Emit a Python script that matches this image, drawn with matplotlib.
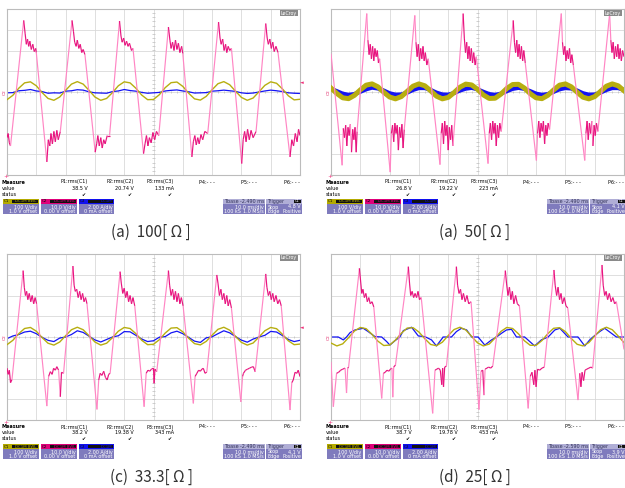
import numpy as np
import matplotlib
matplotlib.use('Agg')
import matplotlib.pyplot as plt
from matplotlib.collections import LineCollection
from matplotlib.patches import Rectangle

# ---------------- data (screen divisions: x 0..10, y -4..4) ----------------
wave_x = np.linspace(0, 10, 51)

yellow_a = [-0.37, -0.16, 0.18, 0.44, 0.49, 0.30, -0.03, -0.31, -0.40, -0.24,
            0.08, 0.38, 0.50, 0.38, 0.08, -0.24, -0.40, -0.31, -0.03, 0.30,
            0.49, 0.44, 0.18, -0.15, -0.37, -0.36, -0.13, 0.21, 0.45, 0.48,
            0.27, -0.06, -0.33, -0.39, -0.21, 0.11, 0.40, 0.50, 0.35, 0.04,
            -0.26, -0.40, -0.29, 0.01, 0.32, 0.49, 0.42, 0.15, -0.18, -0.38, -0.35]
blue_a = [-0.04, -0.03, 0.06, 0.08, 0.12, 0.05, 0.02, -0.06, -0.04, -0.05,
          0.04, 0.06, 0.11, 0.09, 0.01, -0.04, -0.05, -0.06, 0.02, 0.05,
          0.12, 0.07, 0.04, -0.02, -0.06, -0.04, -0.02, 0.05, 0.08, 0.10,
          0.05, 0.01, -0.05, -0.04, -0.03, 0.04, 0.06, 0.09, 0.06, 0.03,
          -0.04, -0.07, -0.05, 0.00, 0.05, 0.09, 0.06, 0.02, -0.04, -0.06, -0.07]
pink_a = [(0.00, -2.20), (0.04, -2.00), (0.08, -2.45), (0.12, -2.60),
          (0.57, 3.45), (0.62, 2.80), (0.66, 2.30), (0.70, 2.55), (0.74, 2.20), (0.78, 2.45),
          (0.83, 2.05), (0.88, 2.30), (0.93, 1.95), (0.98, 2.10), (1.00, 1.90),
          (1.36, -3.37), (1.41, -2.30), (1.46, -2.60), (1.50, -2.00), (1.55, -2.50), (1.60, -1.90),
          (1.65, -2.40), (1.70, -1.85), (1.75, -2.30), (1.82, -1.90),
          (2.22, 3.45), (2.27, 2.90), (2.31, 2.40), (2.36, 2.20), (2.40, 2.50), (2.45, 2.10),
          (2.50, 2.30), (2.55, 1.90), (2.60, 2.05), (2.66, 1.80),
          (3.01, -2.90), (3.06, -2.50), (3.10, -2.10), (3.15, -2.60), (3.20, -2.20), (3.25, -2.70),
          (3.30, -2.30), (3.35, -2.50), (3.42, -2.10), (3.50, -2.10),
          (3.84, 3.42), (3.89, 2.70), (3.93, 2.40), (3.98, 2.60), (4.03, 2.25), (4.08, 2.45),
          (4.13, 2.20), (4.18, 2.35), (4.25, 2.00), (4.30, 2.10),
          (4.66, -2.97), (4.71, -2.50), (4.76, -2.10), (4.81, -2.60), (4.86, -2.20), (4.92, -2.45),
          (4.98, -1.95), (5.04, -2.30), (5.10, -1.90), (5.18, -2.10),
          (5.51, 3.13), (5.56, 2.50), (5.60, 2.10), (5.65, 2.40), (5.70, 2.00), (5.75, 2.50),
          (5.80, 2.05), (5.85, 2.35), (5.90, 1.90), (5.96, 2.20), (6.00, 1.85),
          (6.31, -3.13), (6.36, -2.40), (6.41, -2.10), (6.46, -2.55), (6.51, -2.20), (6.56, -2.50),
          (6.62, -2.05), (6.68, -2.30), (6.75, -1.90), (6.85, -2.00),
          (7.22, 3.37), (7.27, 2.60), (7.31, 2.30), (7.36, 2.55), (7.41, 2.00), (7.46, 2.30),
          (7.50, 1.90), (7.55, 2.20), (7.60, 2.00), (7.66, 2.10),
          (8.01, -3.45), (8.06, -2.30), (8.11, -1.90), (8.16, -2.40), (8.21, -1.80), (8.27, -2.30),
          (8.33, -1.85), (8.40, -2.20), (8.50, -1.90),
          (8.83, 3.30), (8.88, 2.60), (8.92, 2.30), (8.97, 2.55), (9.02, 2.10), (9.07, 2.40),
          (9.12, 1.95), (9.18, 2.20), (9.25, 1.90),
          (9.66, -3.13), (9.72, -2.30), (9.78, -2.60), (9.84, -2.00), (9.90, -2.40), (9.95, -1.80),
          (10.00, -2.10)]

yellow_b = [0.19, -0.07, -0.28, -0.32, -0.16, 0.10, 0.33, 0.39, 0.25, -0.01,
            -0.24, -0.33, -0.22, 0.03, 0.28, 0.39, 0.30, 0.06, -0.20, -0.33,
            -0.26, -0.03, 0.23, 0.38, 0.34, 0.13, -0.14, -0.31, -0.30, -0.10,
            0.17, 0.36, 0.37, 0.19, -0.08, -0.28, -0.32, -0.16, 0.10, 0.33,
            0.39, 0.25, -0.01, -0.25, -0.33, -0.22, 0.03, 0.28, 0.39, 0.30, 0.06]
blue_b = [0.15, 0.04, -0.08, -0.14, -0.10, 0.01, 0.13, 0.21, 0.17, 0.07,
          -0.06, -0.13, -0.12, -0.03, 0.10, 0.19, 0.19, 0.10, -0.03, -0.12,
          -0.13, -0.05, 0.07, 0.16, 0.20, 0.13, 0.01, -0.10, -0.14, -0.08,
          0.04, 0.15, 0.20, 0.15, 0.04, -0.08, -0.14, -0.10, 0.01, 0.13,
          0.19, 0.17, 0.07, -0.06, -0.13, -0.12, -0.03, 0.10, 0.19, 0.19, 0.10]
pink_b = [(0.00, 1.85), (0.38, -3.53),
          (0.42, -1.75), (0.46, -2.20), (0.50, -1.60), (0.54, -2.60), (0.58, -1.70), (0.62, -2.10),
          (0.66, -1.55), (0.70, -2.90), (0.74, -1.80), (0.78, -2.30), (0.82, -1.70), (0.86, -2.90), (0.89, -1.90),
          (1.22, 3.78), (1.26, 2.50), (1.30, 1.80), (1.34, 2.30), (1.38, 1.60), (1.42, 2.20),
          (1.46, 1.50), (1.50, 2.10), (1.54, 1.70), (1.58, 2.00), (1.62, 1.40), (1.66, 1.60),
          (2.02, -3.86), (2.06, -2.00), (2.10, -1.60), (2.14, -2.40), (2.18, -1.50), (2.22, -2.00),
          (2.26, -1.60), (2.30, -2.80), (2.34, -1.70), (2.38, -2.20), (2.42, -1.55), (2.46, -2.70), (2.50, -1.80),
          (2.86, 3.69), (2.90, 2.40), (2.94, 1.70), (2.98, 2.30), (3.02, 1.50), (3.06, 2.10),
          (3.10, 1.60), (3.14, 2.20), (3.18, 1.50), (3.22, 1.90), (3.27, 1.30), (3.32, 1.60),
          (3.72, -3.50), (3.76, -2.00), (3.80, -1.50), (3.84, -2.50), (3.88, -1.40), (3.92, -2.10),
          (3.96, -1.60), (4.00, -2.80), (4.04, -1.70), (4.08, -2.30), (4.12, -1.60), (4.16, -2.60),
          (4.51, 3.78), (4.55, 2.60), (4.59, 1.90), (4.63, 2.40), (4.67, 1.60), (4.71, 2.20),
          (4.75, 1.50), (4.79, 2.10), (4.83, 1.40), (4.87, 1.90), (4.92, 1.30), (4.96, 1.70),
          (5.36, -3.45), (5.40, -2.00), (5.44, -1.50), (5.48, -2.30), (5.52, -1.40), (5.56, -2.00),
          (5.60, -1.50), (5.64, -2.60), (5.68, -1.60), (5.72, -2.20), (5.76, -1.50), (5.81, -1.90),
          (6.22, 3.45), (6.26, 2.40), (6.30, 1.90), (6.34, 2.50), (6.38, 1.70), (6.42, 2.30),
          (6.46, 1.60), (6.50, 2.20), (6.54, 1.50), (6.58, 2.00), (6.63, 1.40),
          (7.01, -3.30), (7.05, -2.00), (7.09, -1.40), (7.13, -2.20), (7.17, -1.50), (7.21, -1.90),
          (7.25, -1.40), (7.29, -2.50), (7.33, -1.60), (7.37, -2.10), (7.41, -1.50), (7.46, -1.80),
          (7.86, 3.78), (7.90, 2.40), (7.94, 1.80), (7.98, 2.20), (8.02, 1.50), (8.06, 2.00),
          (8.10, 1.60), (8.14, 2.10), (8.18, 1.40), (8.22, 1.80), (8.27, 1.30),
          (8.66, -3.30), (8.70, -2.00), (8.74, -1.40), (8.78, -2.30), (8.82, -1.50), (8.86, -2.00),
          (8.90, -1.40), (8.94, -2.60), (8.98, -1.60), (9.02, -2.10), (9.06, -1.50), (9.11, -1.90),
          (9.51, 3.78), (9.55, 2.50), (9.59, 1.90), (9.63, 2.40), (9.67, 1.60), (9.71, 2.20),
          (9.75, 1.70), (9.79, 2.30), (9.83, 1.60), (9.87, 2.10), (9.91, 1.50), (9.95, 2.00), (10.00, 1.70)]

yellow_c = [-0.37, -0.16, 0.16, 0.41, 0.46, 0.28, -0.03, -0.30, -0.39, -0.24,
            0.06, 0.35, 0.47, 0.35, 0.06, -0.24, -0.39, -0.30, -0.03, 0.28,
            0.46, 0.41, 0.16, -0.16, -0.37, -0.35, -0.13, 0.19, 0.43, 0.45,
            0.25, -0.06, -0.32, -0.38, -0.21, 0.09, 0.37, 0.47, 0.33, 0.03,
            -0.26, -0.39, -0.29, 0.00, 0.30, 0.46, 0.40, 0.13, -0.18, -0.37, -0.34]
blue_c = [-0.08, 0.05, 0.12, 0.24, 0.28, 0.16, -0.02, -0.16, -0.22, -0.05,
          0.00, 0.12, 0.30, 0.22, 0.04, -0.14, -0.24, -0.12, 0.00, 0.06,
          0.26, 0.25, 0.08, -0.10, -0.22, -0.18, -0.01, 0.02, 0.20, 0.28,
          0.16, -0.02, -0.20, -0.26, -0.04, 0.01, 0.16, 0.30, 0.20, 0.02,
          -0.15, -0.25, -0.10, 0.00, 0.08, 0.27, 0.24, 0.07, -0.12, -0.22, -0.16]
pink_c = [(0.00, -1.50), (0.04, -1.80), (0.08, -1.60), (0.12, -2.20), (0.17, -2.05),
          (0.55, 3.20), (0.59, 2.40), (0.63, 2.00), (0.67, 2.20), (0.71, 1.80), (0.76, 2.10),
          (0.81, 1.70), (0.86, 2.00), (0.91, 1.60), (0.96, 1.90), (1.01, 1.60),
          (1.36, -3.33), (1.42, -1.90), (1.48, -1.67), (1.54, -1.80), (1.59, -1.51), (1.65, -1.60),
          (1.70, -1.43), (1.76, -1.60), (1.82, -2.88), (1.86, -1.70), (1.93, -1.75),
          (2.25, 3.42), (2.29, 2.50), (2.33, 2.20), (2.38, 2.30), (2.43, 1.90), (2.48, 2.20),
          (2.53, 1.80), (2.58, 2.10), (2.63, 1.70), (2.68, 1.90), (2.73, 1.60),
          (3.07, -3.49), (3.13, -2.07), (3.18, -1.75), (3.24, -1.85), (3.30, -1.65), (3.36, -1.95),
          (3.42, -2.07), (3.47, -1.80), (3.52, -1.75),
          (3.86, 3.15), (3.90, 2.60), (3.95, 2.10), (4.00, 2.35), (4.05, 1.90), (4.10, 2.20),
          (4.15, 1.70), (4.20, 2.00), (4.25, 1.60), (4.30, 1.90), (4.36, 1.50),
          (4.68, -3.36), (4.75, -1.75), (4.81, -1.60), (4.87, -1.65), (4.93, -1.55), (5.00, -1.50),
          (5.02, -2.23), (5.05, -1.55), (5.11, -1.67),
          (5.51, 3.20), (5.55, 2.50), (5.60, 2.00), (5.65, 2.30), (5.70, 1.80), (5.75, 2.20),
          (5.80, 1.70), (5.85, 2.10), (5.90, 1.60), (5.95, 1.90), (6.01, 1.50),
          (6.36, -3.20), (6.42, -1.90), (6.48, -1.75), (6.54, -1.60), (6.60, -1.65), (6.65, -1.55),
          (6.70, -1.51), (6.76, -1.75), (6.82, -1.68),
          (7.16, 2.99), (7.20, 2.60), (7.25, 2.00), (7.30, 2.30), (7.35, 1.80), (7.40, 2.10),
          (7.45, 1.60), (7.50, 2.00), (7.55, 1.50), (7.60, 1.80), (7.66, 1.40),
          (7.98, -3.13), (8.04, -1.90), (8.07, -1.75), (8.14, -1.60), (8.21, -1.55), (8.28, -1.50),
          (8.35, -1.45), (8.41, -1.43), (8.47, -1.68),
          (8.83, 3.04), (8.87, 2.40), (8.92, 2.00), (8.97, 2.20), (9.02, 1.80), (9.07, 2.10),
          (9.12, 1.70), (9.18, 2.00), (9.24, 1.60), (9.30, 1.80), (9.36, 1.50),
          (9.66, -3.52), (9.72, -2.20), (9.77, -2.07), (9.83, -1.70), (9.89, -1.75), (9.94, -1.60),
          (10.00, -1.91)]

yellow_d = [-0.29, -0.43, -0.33, -0.03, 0.29, 0.46, 0.40, 0.13, -0.20, -0.41,
            -0.39, -0.15, 0.18, 0.43, 0.45, 0.24, -0.08, -0.36, -0.42, -0.25,
            0.07, 0.36, 0.47, 0.34, 0.03, -0.28, -0.43, -0.34, -0.05, 0.27,
            0.46, 0.41, 0.15, -0.18, -0.40, -0.40, -0.17, 0.16, 0.42, 0.45,
            0.26, -0.07, -0.35, -0.43, -0.27, 0.05, 0.35, 0.47, 0.35, 0.05, -0.27]
blue_d = [(0.00, 0.00), (0.25, 0.00), (0.42, -0.14), (0.53, 0.00), (0.65, 0.21), (0.82, 0.34),
          (1.10, 0.42), (1.27, 0.26), (1.50, 0.02), (1.73, 0.00), (1.90, -0.22), (2.01, -0.39),
          (2.18, -0.18), (2.35, 0.00), (2.47, 0.31), (2.75, 0.47), (2.98, 0.05), (3.20, 0.02),
          (3.43, -0.14), (3.60, -0.43), (3.83, 0.00), (4.11, 0.00), (4.28, 0.26), (4.45, 0.42),
          (4.63, 0.34), (4.80, 0.00), (5.02, 0.00), (5.25, -0.39), (5.48, -0.14), (5.65, 0.00),
          (5.82, 0.18), (5.99, 0.34), (6.16, 0.37), (6.33, 0.00), (6.61, 0.00), (6.95, -0.43),
          (7.18, -0.14), (7.41, 0.00), (7.64, 0.34), (7.81, 0.42), (8.09, 0.00), (8.43, 0.00),
          (8.66, -0.43), (8.83, -0.14), (8.94, 0.00), (9.17, 0.26), (9.34, 0.42), (9.57, 0.18),
          (9.74, 0.00), (10.00, 0.00)]
pink_d = [(0.00, -1.20), (0.08, -3.36), (0.19, -1.75), (0.26, -1.70), (0.33, -1.60), (0.40, -1.55),
          (0.48, -1.50), (0.53, -2.70), (0.57, -1.50), (0.60, -1.45),
          (0.97, 3.31), (1.01, 2.70), (1.05, 2.10), (1.09, 2.30), (1.14, 1.90), (1.19, 2.10),
          (1.24, 1.70), (1.29, 1.90), (1.34, 1.60), (1.40, 1.70), (1.46, 1.45),
          (1.73, -2.96), (1.79, -1.75), (1.85, -1.70), (1.91, -1.60), (1.97, -1.65), (2.03, -1.55),
          (2.08, -1.50), (2.11, -2.90), (2.14, -1.45), (2.20, -1.35),
          (2.64, 3.39), (2.68, 2.60), (2.72, 2.00), (2.77, 2.20), (2.82, 1.90), (2.87, 2.10),
          (2.92, 1.90), (2.97, 2.20), (3.02, 1.80), (3.08, 1.90),
          (3.47, -3.68), (3.55, -1.60), (3.61, -1.55), (3.67, -1.50), (3.73, -1.60), (3.78, -2.30),
          (3.81, -1.50), (3.84, -2.40), (3.88, -1.45), (3.94, -1.40),
          (4.28, 3.39), (4.32, 2.50), (4.37, 2.10), (4.42, 2.30), (4.47, 1.80), (4.52, 2.10),
          (4.58, 1.70), (4.64, 2.00), (4.70, 1.60), (4.78, 1.70),
          (5.05, -3.50), (5.12, -1.65), (5.18, -1.60), (5.22, -2.80), (5.26, -1.55), (5.32, -1.50),
          (5.38, -1.45), (5.45, -1.50), (5.52, -1.40),
          (5.95, 3.20), (5.99, 2.60), (6.04, 2.00), (6.09, 2.40), (6.14, 1.80), (6.19, 2.20),
          (6.24, 1.60), (6.30, 2.00), (6.36, 1.60), (6.43, 1.50),
          (6.73, -3.44), (6.80, -1.90), (6.86, -1.70), (6.92, -2.30), (6.96, -1.60), (7.00, -2.40),
          (7.05, -1.55), (7.12, -1.60), (7.20, -1.50), (7.28, -1.45),
          (7.61, 3.23), (7.65, 2.50), (7.70, 2.00), (7.75, 2.40), (7.80, 1.80), (7.85, 2.10),
          (7.90, 1.60), (7.96, 1.90), (8.02, 1.50), (8.08, 1.40),
          (8.43, -3.04), (8.49, -1.75), (8.53, -2.40), (8.57, -1.70), (8.62, -2.10), (8.67, -1.60),
          (8.73, -1.55), (8.80, -1.50), (8.87, -1.45), (8.93, -1.50),
          (9.25, 3.47), (9.29, 2.50), (9.34, 2.00), (9.39, 2.20), (9.44, 1.80), (9.50, 2.10),
          (9.56, 1.70), (9.62, 1.90), (9.68, 1.60), (9.74, 1.70), (10.00, -0.60)]

captions = ['(a)  100[ Ω ]', '(a)  50[ Ω ]', '(c)  33.3[ Ω ]', '(d)  25[ Ω ]']
p1_vals = ['38.5 V', '26.8 V', '38.2 V', '38.7 V']
p2_vals = ['20.74 V', '19.22 V', '19.38 V', '19.78 V']
p3_vals = ['133 mA', '223 mA', '343 mA', '453 mA']
tbase_vals = ['-2.490 ms', '-2.490 ms', '-2.490 ms', '-2.590 ms']
trig_vals = ['4.8 V', '4.1 V', '4.1 V', '3.9 V']
chan_names = ['C1', 'C2', 'C3']
chan_scale = ['100 V/div', '10.0 V/div', '2.00 A/div']
chan_offset = ['1.0 V offset', '0.00 V offset', '0 mA offset']

# ---------------- styling ----------------
W, H = 625, 488
YEL = '#b7ae10'
BLU = '#1414f5'
PINK_LIGHT = '#ff86c4'
PINK_DARK = '#e8147f'
GRID = '#d9d9d9'
BOX = '#7f7bbd'
chan_colors = ['#b4aa00', '#e0007a', '#1010ee']
mono = dict(family='DejaVu Sans', fontsize=3.5)


def px_axes(fig, x0, y0, w, h):
    return fig.add_axes([x0 / W, 1 - (y0 + h) / H, w / W, h / H])


def draw_screen(ax, yellow, blue, pink, thick):
    ax.set_xlim(0, 10)
    ax.set_ylim(-4, 4)
    ax.set_xticks([])
    ax.set_yticks([])
    for s in ax.spines.values():
        s.set_color('#bcbcbc')
        s.set_linewidth(0.8)
    for v in range(1, 10):
        ax.axvline(v, color=GRID, lw=0.6, zorder=0)
    for h in range(-3, 4):
        ax.axhline(h, color=GRID, lw=0.6, zorder=0)
    ax.vlines(np.arange(0, 10.01, 0.2), -0.07, 0.07, color='#bdbdbd', lw=0.5, zorder=0)
    ax.hlines(np.arange(-4, 4.01, 0.2), 4.95, 5.05, color='#bdbdbd', lw=0.5, zorder=0)

    bx, by = (wave_x, blue) if not isinstance(blue[0], tuple) else np.array(blue).T
    ax.plot(bx, by, color=BLU, lw=3.0 if thick else 0.9, zorder=2)
    ax.plot(wave_x, yellow, color=YEL, lw=3.6 if thick else 1.0, zorder=3)

    pts = np.array(pink)
    segs = np.stack([pts[:-1], pts[1:]], axis=1)
    steep = np.abs(np.diff(pts[:, 1])) > 1.2
    cols = [PINK_LIGHT if s else PINK_DARK for s in steep]
    ax.add_collection(LineCollection(segs, colors=cols, linewidths=0.85, zorder=4))


def draw_readout(ov, dx, dy, i):
    # left markers and logo
    ov.text(dx + 4.5, dy + 92, 'C2', color='#e02a6a', rotation=90, ha='center', va='center',
            family='DejaVu Sans', fontsize=3.2)
    if dx + 304 < W:
        ov.text(dx + 302, dy + 83, '◄', color='#f0307a', ha='center', va='center',
                family='DejaVu Sans', fontsize=3.5)
    ov.text(dx + 6, dy + 177, '+', color='#f0307a', ha='center', va='center',
            family='DejaVu Sans', fontsize=4.5)
    ov.text(dx + 297, dy + 13, 'LeCroy', color='white', ha='right', va='center',
            family='DejaVu Sans', fontsize=3.4,
            bbox=dict(boxstyle='square,pad=0.15', fc='#8a8a8a', ec='none'))

    # measure table
    ov.text(dx + 2, dy + 182, 'Measure', ha='left', va='center', weight='bold', **mono)
    ov.text(dx + 2, dy + 188, 'value', ha='left', va='center', **mono)
    ov.text(dx + 2, dy + 194, 'status', ha='left', va='center', **mono)
    cols = [(88, 'P1:rms(C1)', p1_vals[i]), (134, 'P2:rms(C2)', p2_vals[i]),
            (174, 'P3:rms(C3)', p3_vals[i])]
    for xr, name, val in cols:
        ov.text(dx + xr, dy + 182, name, ha='right', va='center', **mono)
        ov.text(dx + xr, dy + 188, val, ha='right', va='center', **mono)
        ov.text(dx + xr - 4, dy + 194, '✔', ha='center', va='center', **mono)
    for xr, name in [(215, 'P4:- - -'), (257, 'P5:- - -'), (300, 'P6:- - -')]:
        ov.text(dx + xr, dy + 182, name, ha='right', va='center', **mono)

    # channel boxes
    top = dy + 199
    for k, x0 in enumerate([2.7, 41, 79]):
        w = 36 if k < 2 else 35
        ov.add_patch(Rectangle((dx + x0, top), w, 15, fc=BOX, ec='none'))
        ov.add_patch(Rectangle((dx + x0, top), w, 5, fc=chan_colors[k], ec='none'))
        ov.add_patch(Rectangle((dx + x0 + 9, top + 0.6), w - 10, 3.8, fc='#111111', ec='none'))
        ov.text(dx + x0 + 1.2, top + 2.5, chan_names[k], ha='left', va='center',
                color='#111111', family='DejaVu Sans', fontsize=3.0)
        ov.text(dx + x0 + w - 2, top + 2.5, 'DC1M BWL' if k < 2 else 'DC1M', ha='right',
                va='center', color=chan_colors[k], family='DejaVu Sans', fontsize=2.8)
        ov.text(dx + x0 + w - 1.5, top + 8, chan_scale[k], ha='right', va='center',
                color='white', **mono)
        ov.text(dx + x0 + w - 1.5, top + 12.3, chan_offset[k], ha='right', va='center',
                color='white', **mono)

    # timebase box
    ov.add_patch(Rectangle((dx + 223, top), 42, 15, fc=BOX, ec='none'))
    ov.add_patch(Rectangle((dx + 223, top), 42, 5, fc='#b0aed6', ec='none'))
    ov.text(dx + 224.5, top + 2.5, 'Tbase', ha='left', va='center', color='#33335a', **mono)
    ov.text(dx + 264, top + 2.5, tbase_vals[i], ha='right', va='center', color='#33335a', **mono)
    ov.text(dx + 264, top + 8, '10.0 ms/div', ha='right', va='center', color='white', **mono)
    ov.text(dx + 224.5, top + 12.3, '100 kS', ha='left', va='center', color='white', **mono)
    ov.text(dx + 264, top + 12.3, '1.0 MS/s', ha='right', va='center', color='white', **mono)

    # trigger box
    ov.add_patch(Rectangle((dx + 266, top), 36, 15, fc=BOX, ec='none'))
    ov.add_patch(Rectangle((dx + 266, top), 36, 5, fc='#b0aed6', ec='none'))
    ov.add_patch(Rectangle((dx + 294, top + 0.8), 7, 3.4, fc='#111111', ec='none'))
    ov.text(dx + 267.5, top + 2.5, 'Trigger', ha='left', va='center', color='#33335a', **mono)
    ov.text(dx + 297.5, top + 2.5, 'C1', ha='center', va='center', color='white',
            family='DejaVu Sans', fontsize=2.6)
    ov.text(dx + 267.5, top + 8, 'Stop', ha='left', va='center', color='white', **mono)
    ov.text(dx + 301, top + 8, trig_vals[i], ha='right', va='center', color='white', **mono)
    ov.text(dx + 267.5, top + 12.3, 'Edge', ha='left', va='center', color='white', **mono)
    ov.text(dx + 301, top + 12.3, 'Positive', ha='right', va='center', color='white', **mono)


fig = plt.figure(figsize=(W / 100, H / 100), dpi=100)
fig.patch.set_facecolor('white')

offsets = [(0, 0), (324, 0), (0, 245), (324, 245)]
traces = [(yellow_a, blue_a, pink_a, False), (yellow_b, blue_b, pink_b, True),
          (yellow_c, blue_c, pink_c, False), (yellow_d, blue_d, pink_d, False)]

for (dx, dy), (yel, blu, pnk, thick) in zip(offsets, traces):
    ax = px_axes(fig, 7 + dx, 9 + dy, 293, 166)
    draw_screen(ax, yel, blu, pnk, thick)

ov = fig.add_axes([0, 0, 1, 1])
ov.set_xlim(0, W)
ov.set_ylim(H, 0)
ov.axis('off')

for i, (dx, dy) in enumerate(offsets):
    draw_readout(ov, dx, dy, i)
    ov.text(151 + dx, 232 + dy, captions[i], ha='center', va='center', color='#333333',
            family=['Noto Sans CJK KR', 'DejaVu Sans'], fontsize=11)

fig.savefig('out.png', dpi=100)
